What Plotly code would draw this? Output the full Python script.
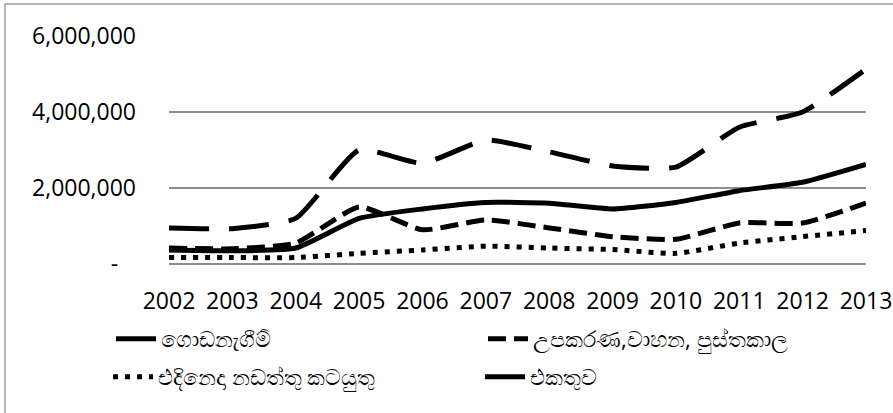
import plotly.graph_objects as go

years = ["2002", "2003", "2004", "2005", "2006", "2007", "2008", "2009", "2010", "2011", "2012", "2013"]
buildings = [370000, 350000, 420000, 1200000, 1450000, 1620000, 1600000, 1450000, 1620000, 1930000, 2150000, 2620000]
equipment = [420000, 400000, 550000, 1500000, 900000, 1160000, 950000, 720000, 650000, 1080000, 1080000, 1600000]
activities = [170000, 170000, 170000, 280000, 370000, 470000, 420000, 380000, 280000, 550000, 720000, 880000]
total = [950000, 930000, 1200000, 3000000, 2650000, 3260000, 2950000, 2580000, 2550000, 3600000, 4000000, 5130000]

names = ["ගොඩනැගීම්", "උපකරණ,වාහන, පුස්තකාල", "එදිනෙදා නඩත්තු කටයුතු", "එකතුව"]
series = [buildings, equipment, activities, total]
dashes = ["solid", "18px,8px", "5px,7px", "40px,20px"]
legends = ["legend", "legend2", "legend3", "legend4"]

y_tickvals = [0, 2000000, 4000000, 6000000]
y_ticktext = ["-\u00a0\u00a0\u00a0", "2,000,000", "4,000,000", "6,000,000"]

fig = go.Figure()
for name, vals, dash, lg in zip(names, series, dashes, legends):
    fig.add_trace(go.Scatter(
        x=years, y=vals, name=name, mode="lines", legend=lg,
        line=dict(color="black", width=5, dash=dash, shape="spline", smoothing=0.5),
    ))

W, H = 893, 413
L, R, T, B = 169, 27, 36, 149
pw, ph = W - L - R, H - T - B

leg_common = dict(
    orientation="h", xref="container", yref="container",
    xanchor="left", yanchor="middle", itemwidth=40,
    font=dict(family="Noto Sans", size=22, color="black"),
    bgcolor="rgba(0,0,0,0)",
)
leg_pos = [(111, 339), (483, 339), (108, 377), (480, 377)]

layout_legends = {}
for lg, (px, py) in zip(legends, leg_pos):
    layout_legends[lg] = dict(x=px / W, y=1 - py / H, **leg_common)

fig.update_layout(
    width=W, height=H,
    margin=dict(l=L, r=R, t=T, b=B, pad=0, autoexpand=False),
    paper_bgcolor="white", plot_bgcolor="white",
    font=dict(family="Open Sans", size=23, color="black"),
    showlegend=True,
    xaxis=dict(
        type="category", showgrid=False, showline=False, zeroline=False,
        ticks="", tickfont=dict(size=23), ticklabelstandoff=21, automargin=False,
    ),
    yaxis=dict(
        range=[0, 6000000], tickvals=y_tickvals, ticktext=y_ticktext,
        showgrid=True, gridcolor="#8d8d8d", gridwidth=1.5,
        zeroline=True, zerolinecolor="#8d8d8d", zerolinewidth=1.5,
        showline=False, ticks="", ticklabelstandoff=32,
        tickfont=dict(size=23), automargin=False,
    ),
    shapes=[dict(
        type="rect", xref="paper", yref="paper",
        x0=(5 - L) / pw, x1=(900 - L) / pw,
        y0=(T + ph - 430) / ph, y1=(T + ph - 4) / ph,
        line=dict(color="#a0a0a0", width=1.5), fillcolor="rgba(0,0,0,0)", layer="below",
    )],
    **layout_legends,
)

fig.write_html(
    "out.html",
    config={"displayModeBar": False},
    post_script="document.body.style.margin='0px';document.body.style.padding='0px';",
)
